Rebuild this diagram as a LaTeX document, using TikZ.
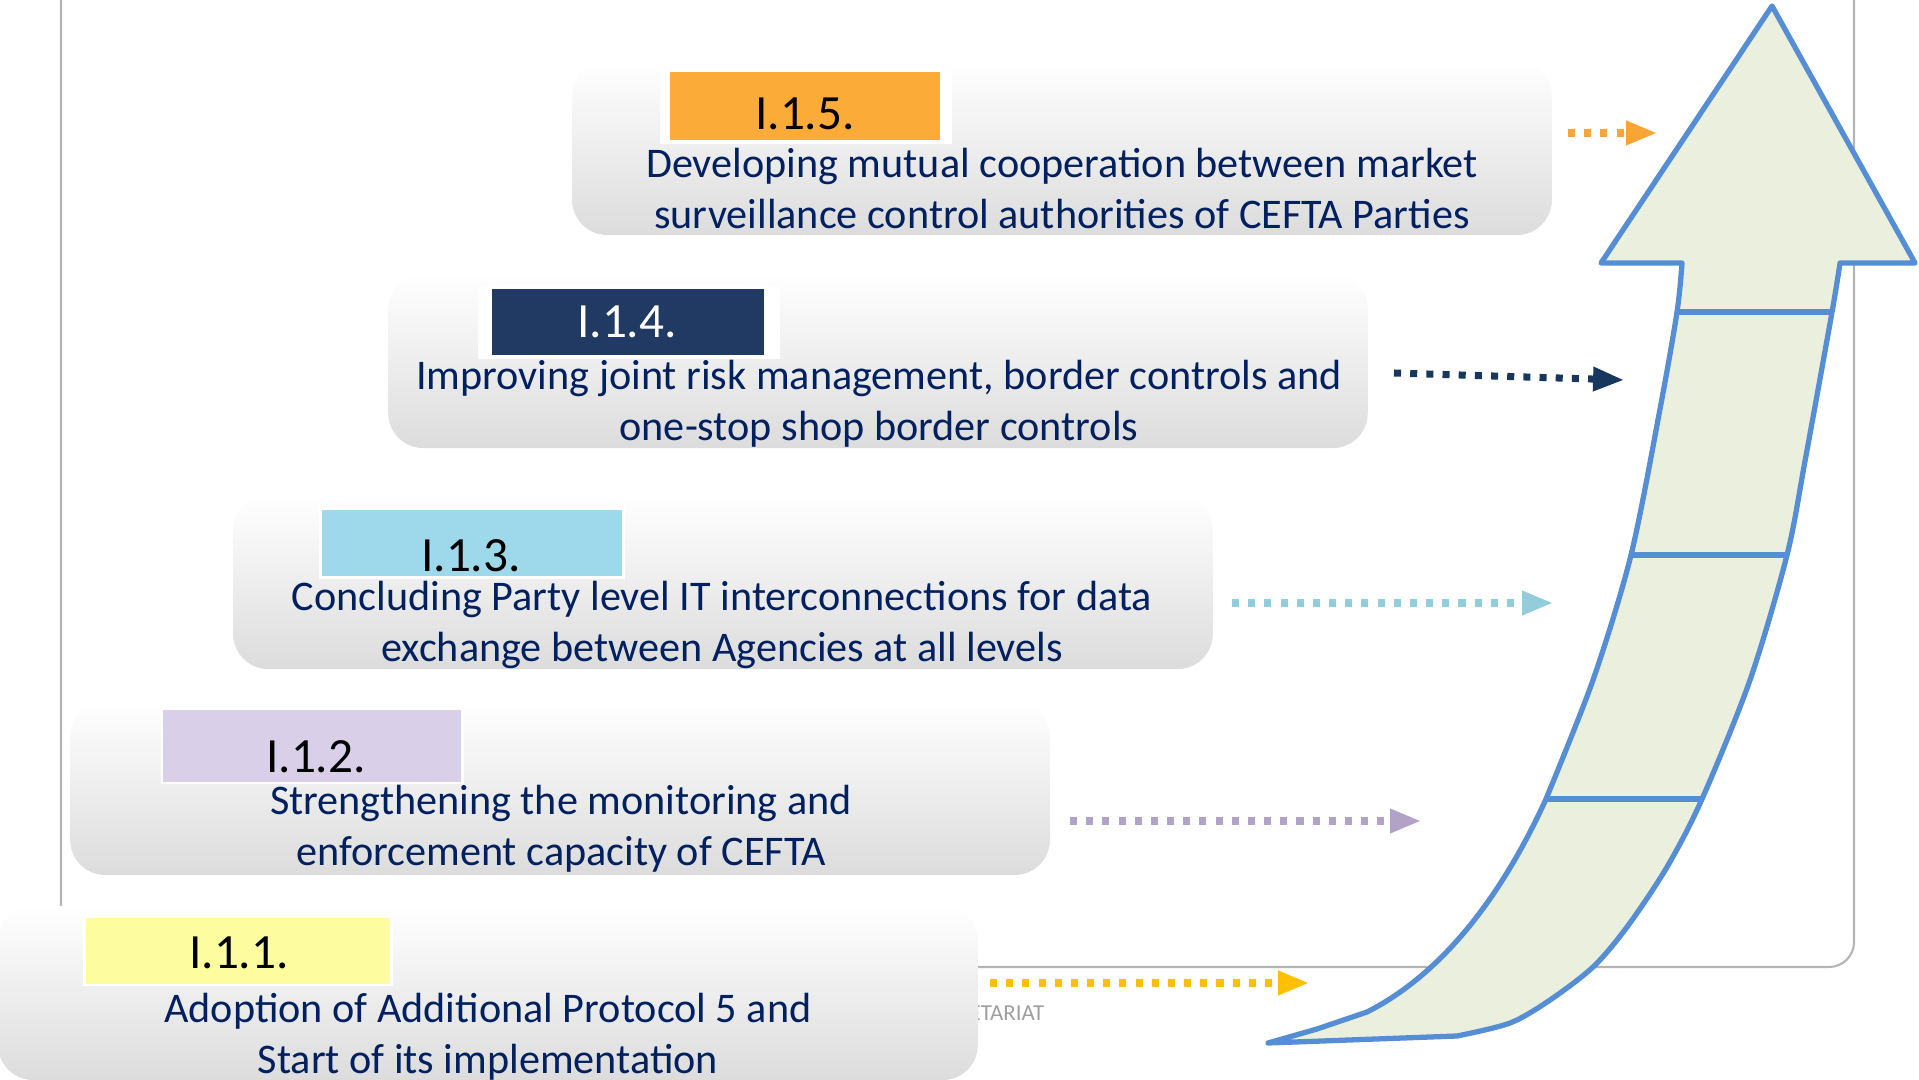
\documentclass[tikz,border=0pt]{standalone}
\usepackage{fontspec}
\setmainfont{Carlito}
\usetikzlibrary{arrows.meta}

\definecolor{txtblue}{HTML}{002060}
\definecolor{boxgray}{HTML}{DCDCDC}
\definecolor{framegray}{HTML}{B4B4B4}
\definecolor{tagorange}{HTML}{FBAC38}
\definecolor{tagnavy}{HTML}{203A63}
\definecolor{tagblue}{HTML}{9DD9EA}
\definecolor{taglilac}{HTML}{D9CFE8}
\definecolor{tagyellow}{HTML}{FDFC9E}
\definecolor{dotorange}{HTML}{F9A533}
\definecolor{dotnavy}{HTML}{17375E}
\definecolor{dotblue}{HTML}{92CDDC}
\definecolor{dotlilac}{HTML}{B3A2C7}
\definecolor{dotgold}{HTML}{FFC000}
\definecolor{upline}{HTML}{558ED5}
\definecolor{upfill}{HTML}{EBF0DE}

\tikzset{
  stepbox/.style={rounded corners=0.35cm, top color=white, bottom color=boxgray,
    minimum width=9.79cm, minimum height=1.74cm, inner sep=0pt},
  tagbox/.style={draw=white, line width=0.8pt, inner sep=0pt, minimum height=0.7cm},
  tagtext/.style={inner sep=0pt, font=\fontsize{14}{16}\selectfont},
  desc/.style={text=txtblue, align=center, inner sep=0pt, font=\fontsize{12}{14.5}\selectfont},
  dots/.style={line width=2pt, dash pattern=on 2pt off 2.6pt,
    -{Triangle[length=8.8pt,width=6.5pt]}}
}

\begin{document}
\begin{tikzpicture}[x=0.01cm,y=-0.01cm]
\useasboundingbox (0,0) rectangle (1919,1080);

% frame
\draw[framegray, line width=0.6pt, rounded corners=0.25cm] (61,-40) rectangle (1854,967);
\node[anchor=west, inner sep=0pt, text=gray!75, font=\fontsize{6.5}{7}\selectfont] (sec) at (969,1013) {ETARIAT};

% steps
\node[stepbox] (b1) at (488,993) {};
\node[stepbox] (b2) at (560,788) {};
\node[stepbox] (b3) at (723,582) {};
\node[stepbox] (b4) at (878,361) {};
\node[stepbox] (b5) at (1062,148) {};

\fill[white] (660,71) rectangle (952,144);
\fill[white] (478,287) rectangle (780,359);

\node[tagbox, fill=tagyellow, minimum width=3.07cm, minimum height=0.68cm] (t1) at (238,951) {};
\node[tagbox, fill=taglilac, minimum width=3.0cm, minimum height=0.74cm] (t2) at (312,746) {};
\node[tagbox, fill=tagblue, minimum width=3.03cm, minimum height=0.69cm] (t3) at (472,543) {};
\node[tagbox, fill=tagnavy, minimum width=2.74cm, minimum height=0.69cm] (t4) at (628,322) {};
\node[tagbox, fill=tagorange, minimum width=2.73cm, minimum height=0.71cm] (t5) at (805,106) {};

\node[tagtext] (n1) at (239,953) {I.1.1.};
\node[tagtext] (n2) at (316,757) {I.1.2.};
\node[tagtext] (n3) at (471,556) {I.1.3.};
\node[tagtext, text=white] (n4) at (627,322) {I.1.4.};
\node[tagtext] (n5) at (805,114) {I.1.5.};

\node[desc] (d1) at (488,1037) {Adoption of Additional Protocol 5 and\\Start of its implementation};
\node[desc] (d2) at (561,829) {Strengthening the monitoring and\\enforcement capacity of CEFTA};
\node[desc] (d3) at (722,625) {Concluding Party level IT interconnections for data\\exchange between Agencies at all levels};
\node[desc] (d4) at (879,404) {Improving joint risk management, border controls and\\one-stop shop border controls};
\node[desc] (d5) at (1062,189) {Developing mutual cooperation between market\\surveillance control authorities of CEFTA Parties};

% dotted pointers
\coordinate (a1) at (990,983);
\coordinate (z1) at (1309,983);
\coordinate (a2) at (1070,821);
\coordinate (z2) at (1421,821);
\coordinate (a3) at (1232,603);
\coordinate (z3) at (1553,603);
\coordinate (a4) at (1394,373);
\coordinate (z4) at (1624,380);
\coordinate (a5) at (1568,133);
\coordinate (z5) at (1657,133);

\draw[dots, dotgold] (a1) -- (z1);
\draw[dots, dotlilac] (a2) -- (z2);
\draw[dots, dotblue] (a3) -- (z3);
\draw[dots, dotnavy] (a4) -- (z4);
\draw[dots, dotorange] (a5) -- (z5);

% big arrow
\filldraw[draw=upline, fill=upfill, line width=1.5pt, line join=round]
  (1772,6) -- (1915,263) -- (1840,263)
  -- plot[smooth] coordinates {(1840,263) (1832,312) (1805,461) (1787,555) (1750,680)
     (1702,799) (1667,867) (1627,927) (1593,967) (1550,1000) (1510,1023) (1457,1036)}
  -- (1268,1043) -- (1317,1029) -- (1367,1012)
  .. controls (1440,975) and (1500,900) .. (1546,799)
  -- plot[smooth] coordinates {(1546,799) (1593,680) (1631,555) (1660,409) (1677,312) (1682,263)}
  -- (1601,263) -- cycle;
\draw[upline, line width=1.5pt] (1677,312) -- (1832,312);
\draw[upline, line width=1.5pt] (1631,555) -- (1787,555);
\draw[upline, line width=1.5pt] (1546,799) -- (1702,799);

\end{tikzpicture}
\end{document}
